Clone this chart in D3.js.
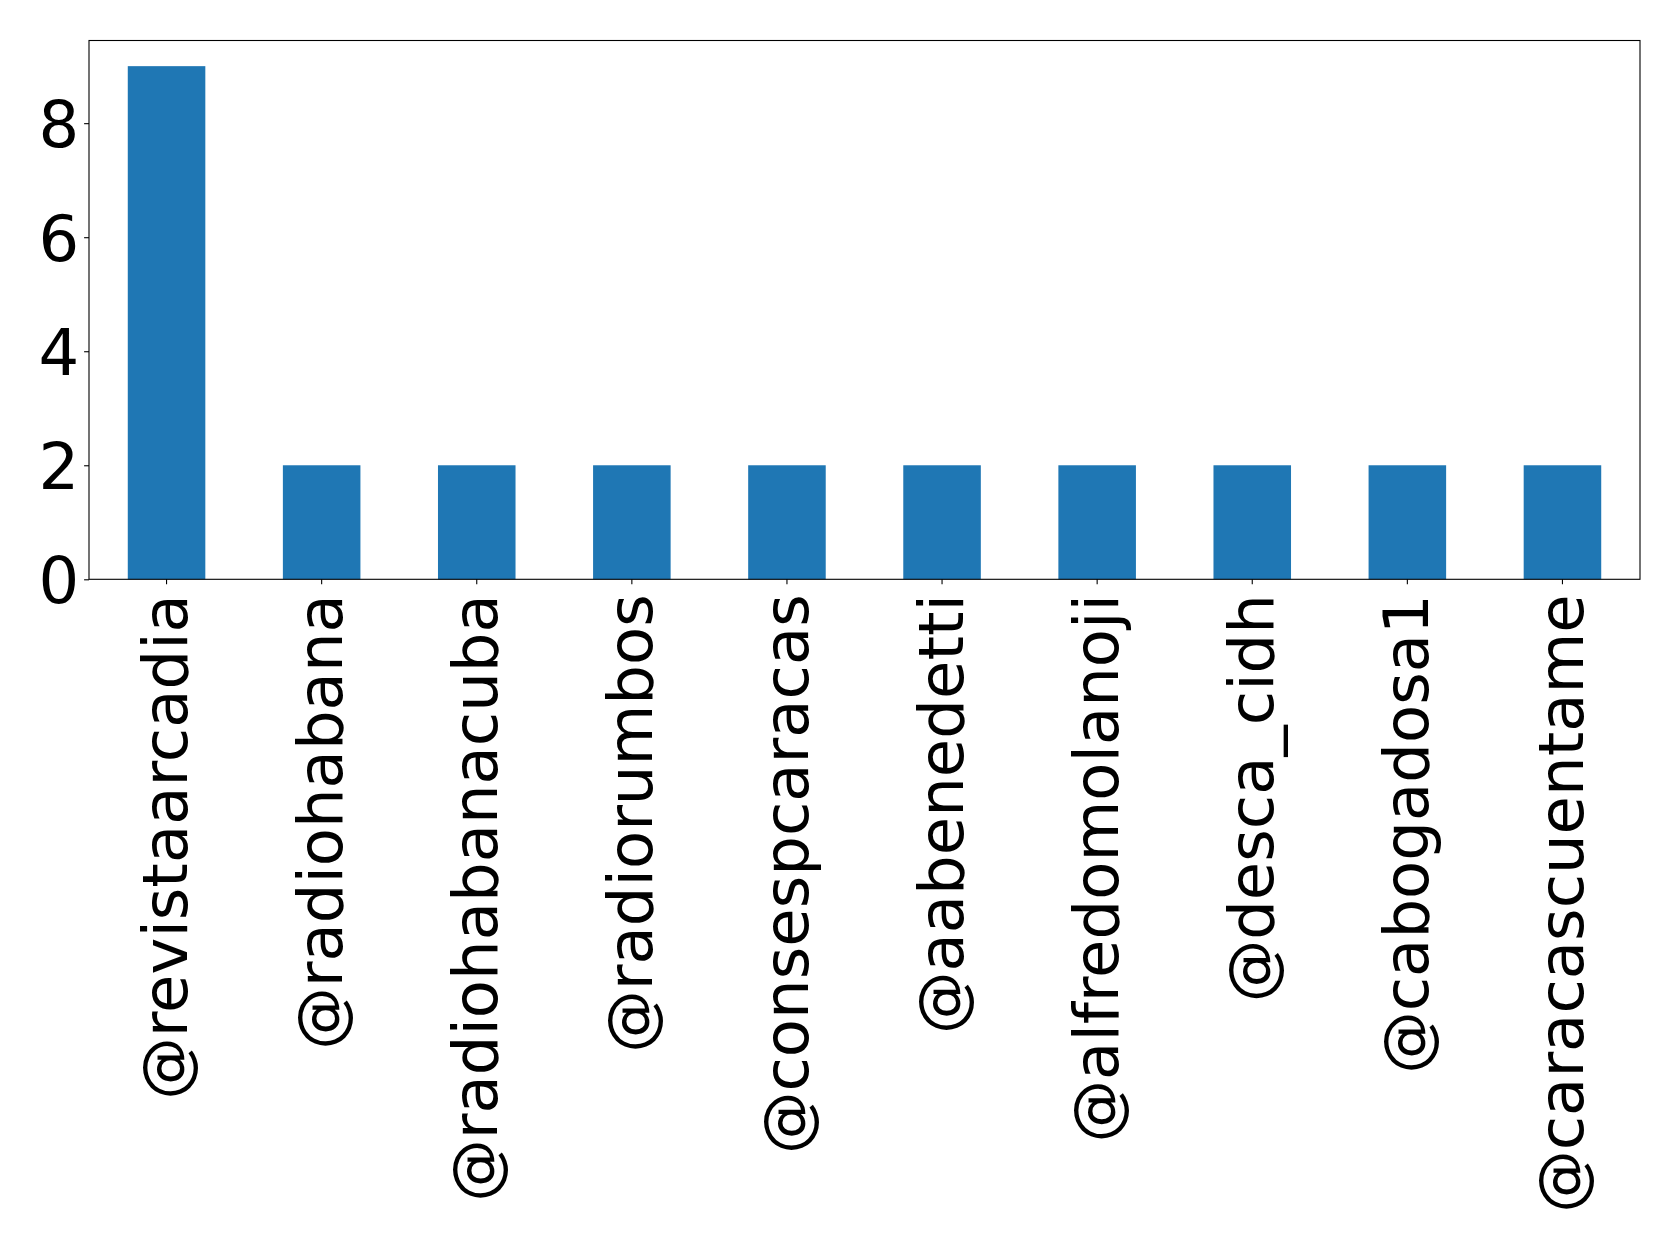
<!DOCTYPE html>
<html>
<head>
<meta charset="utf-8">
<script src="https://cdn.jsdelivr.net/npm/d3@7"></script>
<style>
  body { margin: 0; background: #fff; }
  text { font-family: "DejaVu Sans", sans-serif; fill: #000; }
</style>
</head>
<body>
<div id="chart"></div>
<script>
var accounts = [
  "@revistaarcadia",
  "@radiohabana",
  "@radiohabanacuba",
  "@radiorumbos",
  "@consespcaracas",
  "@aabenedetti",
  "@alfredomolanoji",
  "@desca_cidh",
  "@cabogadosa1",
  "@caracascuentame"
];
var counts = [9, 2, 2, 2, 2, 2, 2, 2, 2, 2];
var yTicks = [0, 2, 4, 6, 8];

function init() {
  var w = 1679;
  var h = 1247;
  var left = 89, right = 1640, top = 40.5, bottom = 579.3;
  var tickLen = 4.9;

  var svg = d3
    .select("#chart")
    .append("svg")
    .attr("width", w)
    .attr("height", h);

  var x = d3
    .scaleBand()
    .domain(accounts)
    .range([left, right])
    .paddingInner(0.5)
    .paddingOuter(0.25);

  var y = d3
    .scaleLinear()
    .domain([0, 9.45])
    .range([bottom, top]);

  // bars
  svg
    .selectAll(".bar")
    .data(accounts)
    .enter()
    .append("rect")
    .attr("class", "bar")
    .attr("x", (d) => x(d))
    .attr("y", (d, i) => y(counts[i]))
    .attr("width", x.bandwidth())
    .attr("height", (d, i) => y(0) - y(counts[i]))
    .attr("fill", "#1f77b4");

  // y axis
  var yAxis = d3.axisLeft(y).tickValues(yTicks).tickSize(tickLen).tickPadding(5);
  var gy = svg
    .append("g")
    .attr("transform", "translate(" + left + ",0)")
    .call(yAxis);
  gy.select(".domain").remove();
  gy.selectAll("line").attr("stroke", "#000").attr("stroke-width", 1.1);
  gy.selectAll("text")
    .attr("font-size", "64px")
    .attr("font-family", "DejaVu Sans")
    .attr("dy", "0.36em");

  // x axis, labels rotated
  var xAxis = d3.axisBottom(x).tickSize(tickLen);
  var gx = svg
    .append("g")
    .attr("transform", "translate(0," + bottom + ")")
    .call(xAxis);
  gx.select(".domain").remove();
  gx.selectAll("line").attr("stroke", "#000").attr("stroke-width", 1.1);
  gx.selectAll("text")
    .attr("font-size", "62.5px")
    .attr("font-family", "DejaVu Sans")
    .attr("text-anchor", "end")
    .attr("transform", "rotate(-90)")
    .attr("x", -(tickLen + 10))
    .attr("y", 0)
    .attr("dy", "0.33em");

  // frame
  svg
    .append("rect")
    .attr("x", left)
    .attr("y", top)
    .attr("width", right - left)
    .attr("height", bottom - top)
    .attr("fill", "none")
    .attr("stroke", "#000")
    .attr("stroke-width", 1.1);
}

window.onload = init;
</script>
</body>
</html>
